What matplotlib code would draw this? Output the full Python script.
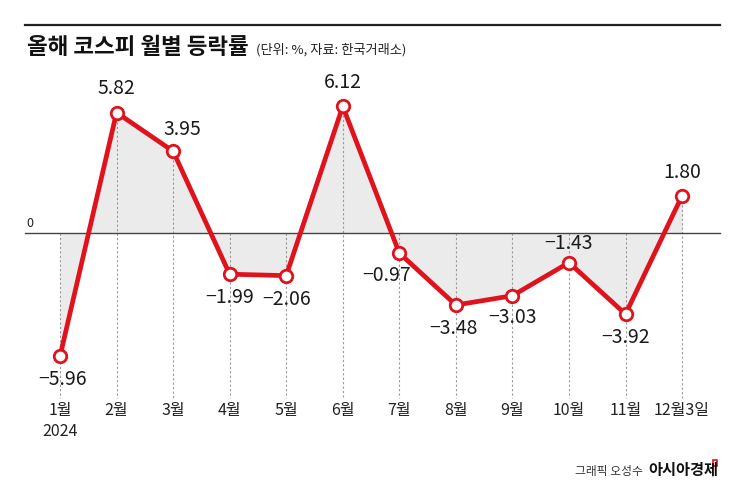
import matplotlib.pyplot as plt
import numpy as np

plt.rcParams['font.family'] = ['Noto Sans CJK KR', 'DejaVu Sans']

# data
months = ['1월', '2월', '3월', '4월', '5월', '6월', '7월', '8월', '9월', '10월', '11월', '12월3일']
values = [-5.96, 5.82, 3.95, -1.99, -2.06, 6.12, -0.97, -3.48, -3.03, -1.43, -3.92, 1.80]
# label offsets in points (dx, dy)
label_offsets = [(2, -17), (0, 17), (7, 16), (0, -17), (0, -17), (0, 17),
                 (-9, -16), (-2, -17), (0, -16), (0, 14), (0, -17), (0, 17)]

W, H = 745, 492
RED = '#e0121c'

fig = plt.figure(figsize=(W / 100, H / 100), dpi=100)
ax = fig.add_axes([0, 0, 1, 1])
ax.axis('off')

# pixel mapping: month 0 -> x=60px, step 56.55px; value 0 -> y=233px, 20.7px per unit
x0, step = 60, 56.55
y0, unit = 233, 20.7
ax.set_xlim(-x0 / step, (W - x0) / step)
ax.set_ylim((y0 - H) / unit, y0 / unit)

def px(x, y):
    return x / W, 1 - y / H

x = np.arange(len(values))
vals = np.array(values)

ax.fill_between(x, vals, 0, color='#ebebeb', lw=0, zorder=1)

bottom = (y0 - 398) / unit
for xi, v in zip(x, vals):
    ax.plot([xi, xi], [max(v, 0), bottom], color='#9a9a9a', lw=0.8,
            ls=(0, (2, 2)), zorder=2)

# zero line and top rule
ax.plot([(25 - x0) / step, (720 - x0) / step], [0, 0], color='#444444', lw=1.0, zorder=3)
fig.add_artist(plt.Line2D([25 / W, 720 / W], [1 - 25 / H, 1 - 25 / H],
                          color='#222222', lw=1.6))

ax.plot(x, vals, color=RED, lw=3.4, zorder=4, solid_joinstyle='round')
ax.plot(x, vals, 'o', ms=9, mfc='white', mec=RED, mew=2, zorder=5)

for xi, v, (dx, dy) in zip(x, vals, label_offsets):
    txt = f'{v:.2f}'.replace('-', '−')
    ax.annotate(txt, (xi, v), xytext=(dx, dy), textcoords='offset points',
                ha='center', va='center', fontsize=14, color='#1a1a1a', zorder=6)

for xi, m in zip(x, months):
    ax.text(xi, (y0 - 410) / unit, m, ha='center', va='center', fontsize=11.5, color='#222222')
ax.text(0, (y0 - 432) / unit, '2024', ha='center', va='center', fontsize=11.5, color='#222222')

ax.text((30 - x0) / step, (y0 - 224) / unit, '0', ha='center', va='center',
        fontsize=9, color='#222222')

# title
fig.text(*px(27, 48), '올해 코스피 월별 등락률', ha='left', va='center',
         fontsize=16.2, fontweight='bold', color='#111111')
fig.text(*px(256, 50), '(단위: %, 자료: 한국거래소)', ha='left', va='center',
         fontsize=9.5, color='#222222')

# footer
fig.text(*px(643, 471), '그래픽 오성수', ha='right', va='center', fontsize=8.5, color='#333333')
fig.text(*px(648, 470), '아시아경제', ha='left', va='center', fontsize=11,
         fontweight='bold', color='#111111')
fig.add_artist(plt.Rectangle((713 / W, 1 - 466 / H), 4 / W, 6 / H,
                             fill=False, ec=RED, lw=1.2))

fig.savefig('out.png', dpi=100, facecolor='white')
